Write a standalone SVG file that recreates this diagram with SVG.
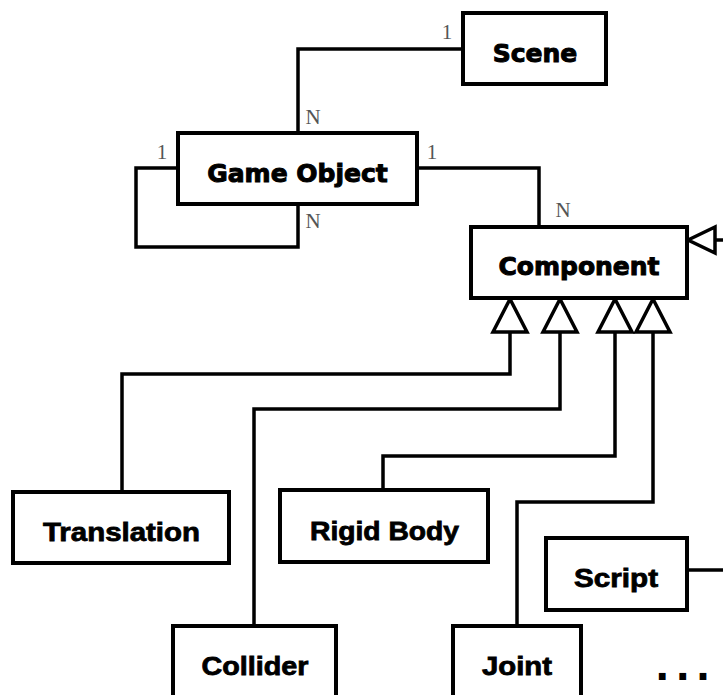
<svg xmlns="http://www.w3.org/2000/svg" width="723" height="695" viewBox="0 0 723 695">
  <style>
    .box { fill: #fff; stroke: #000; stroke-width: 4; }
    .wire { fill: none; stroke: #000; stroke-width: 3.5; stroke-linejoin: miter; }
    .tri { fill: #fff; stroke: #000; stroke-width: 3.5; stroke-linejoin: miter; }
    .title { font-family: "DejaVu Sans", "Noto Sans", sans-serif; font-weight: bold; font-size: 25px; fill: #000; stroke: #000; stroke-width: 1; text-anchor: middle; }
    .sub { font-family: "Liberation Sans", Arial, sans-serif; font-weight: bold; font-size: 26px; fill: #000; stroke: #000; stroke-width: 0.8; text-anchor: middle; }
    .mult { font-family: "Liberation Serif", "Times New Roman", serif; font-size: 21px; fill: #555; text-anchor: middle; }
  </style>
  <rect width="723" height="695" fill="#fff"/>

  <!-- connectors -->
  <g id="connectors">
    <path class="wire" d="M298,133 V49 H463"/>
    <path class="wire" d="M178,168 H136 V247 H298 V204"/>
    <path class="wire" d="M417,168 H539 V227"/>
    <path class="wire" d="M715,240 H723"/>
    <path class="wire" d="M687,570 H723"/>
    <path class="wire" d="M510,332 V374 H122 V492"/>
    <path class="wire" d="M560,332 V409 H254 V626"/>
    <path class="wire" d="M615,332 V456 H383 V490"/>
    <path class="wire" d="M653,332 V502 H517 V626"/>
    <!-- generalization heads -->
    <path class="tri" d="M688,240 L715,227 L715,253 Z"/>
    <path class="tri" d="M510,299 L527,332 L493,332 Z"/>
    <path class="tri" d="M560,299 L577,332 L543,332 Z"/>
    <path class="tri" d="M615,299 L632,332 L598,332 Z"/>
    <path class="tri" d="M653,299 L670,332 L636,332 Z"/>
    <!-- multiplicities -->
    <text class="mult" x="447" y="39">1</text>
    <text class="mult" x="313" y="124">N</text>
    <text class="mult" x="162" y="159">1</text>
    <text class="mult" x="313" y="228">N</text>
    <text class="mult" x="432" y="159">1</text>
    <text class="mult" x="563" y="217">N</text>
  </g>

  <g id="scene">
    <rect class="box" x="463" y="13" width="143" height="71"/>
    <text class="title" x="535" y="62">Scene</text>
  </g>

  <g id="game-object">
    <rect class="box" x="178" y="133" width="239" height="71"/>
    <text class="title" x="297.5" y="181.5">Game Object</text>
  </g>

  <g id="component">
    <rect class="box" x="471" y="227" width="216" height="71"/>
    <text class="title" x="579" y="275">Component</text>
  </g>

  <g id="translation">
    <rect class="box" x="13" y="492" width="216" height="71"/>
    <text class="sub" x="121.5" y="541" textLength="157" lengthAdjust="spacingAndGlyphs">Translation</text>
  </g>

  <g id="rigid-body">
    <rect class="box" x="280" y="490" width="208" height="72"/>
    <text class="sub" x="384.5" y="540" textLength="149" lengthAdjust="spacingAndGlyphs">Rigid Body</text>
  </g>

  <g id="script">
    <rect class="box" x="546" y="538" width="141" height="72"/>
    <text class="sub" x="616" y="587" textLength="84" lengthAdjust="spacingAndGlyphs">Script</text>
  </g>

  <g id="collider">
    <rect class="box" x="173" y="626" width="163" height="80"/>
    <text class="sub" x="255" y="675" textLength="107" lengthAdjust="spacingAndGlyphs">Collider</text>
  </g>

  <g id="joint">
    <rect class="box" x="453" y="626" width="128" height="80"/>
    <text class="sub" x="517" y="675" textLength="70" lengthAdjust="spacingAndGlyphs">Joint</text>
  </g>

  <g id="more">
    <text x="655" y="680" font-family="DejaVu Sans, sans-serif" font-weight="bold" font-size="38" letter-spacing="6" fill="#000">...</text>
  </g>
</svg>
